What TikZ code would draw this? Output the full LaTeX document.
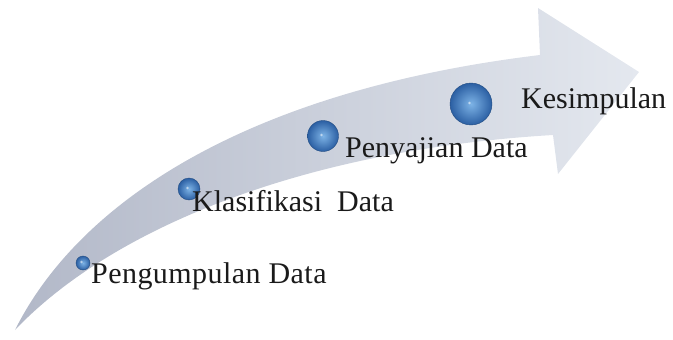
\documentclass[tikz,border=0pt]{standalone}
\usepackage{fontspec}
\setmainfont{Liberation Serif}
\definecolor{arrowdark}{HTML}{B2B8C8}
\definecolor{arrowmid}{HTML}{CBD1DD}
\definecolor{arrowlight}{HTML}{E4E8EF}
\definecolor{beadin}{HTML}{7DB3E6}
\definecolor{beadout}{HTML}{2B5FA3}
\definecolor{labelink}{HTML}{1A1A1A}
\begin{document}
\begin{tikzpicture}[x=1pt,y=-1pt,
  bead/.style={circle, inner sep=0pt, minimum size=#1,
    inner color=beadin, outer color=beadout, draw=beadout!80!black, line width=0.4pt},
  stagelabel/.style={anchor=base west, inner sep=0pt, text=labelink,
    font=\fontsize{30}{30}\selectfont}]
\useasboundingbox (0,0) rectangle (673,340);

% curved arrow body
\shade[left color=arrowdark, middle color=arrowmid, right color=arrowlight]
  (15,330) .. controls (80,200) and (250,90) .. (540,55)
  -- (538,8) -- (639,72) -- (558,174) -- (553,135)
  .. controls (300,150) and (110,230) .. (15,330) -- cycle;

% stage beads
\node[bead=14pt] (b1) at (83,263) {};
\node[bead=22pt] (b2) at (189,189) {};
\node[bead=31pt] (b3) at (323,136) {};
\node[bead=42pt] (b4) at (471,104) {};
\foreach \b in {b1,b2,b3,b4}
  \fill[white, opacity=0.55] (\b.center) ++(-1.5,-1) circle (1.3pt);

% stage labels
\node[stagelabel] (l1) at (91,283) {\addfontfeature{LetterSpace=1.5}Pengumpulan Data};
\node[stagelabel] (l2) at (192,211) {Klasifikasi\ \ Data};
\node[stagelabel] (l3) at (345,157) {Penyajian Data};
\node[stagelabel] (l4) at (521,108) {Kesimpulan};
\end{tikzpicture}
\end{document}
